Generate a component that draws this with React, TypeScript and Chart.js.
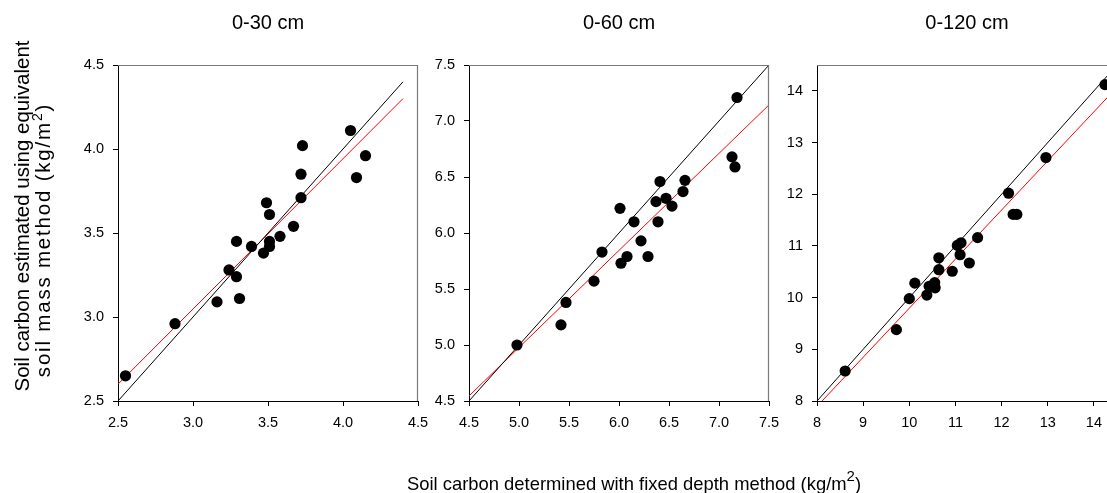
import React, { useEffect, useRef } from 'react';
import { Chart, registerables } from 'chart.js';
Chart.register(...registerables);

const FONT = '"Liberation Sans", Arial, Helvetica, sans-serif';

// ---- data ----
const panelTitles = ['0-30 cm', '0-60 cm', '0-120 cm'];

const fixed030 = [2.55, 2.88, 3.16, 3.31, 3.24, 3.29, 3.29, 3.39, 3.47, 3.51, 3.51, 3.58, 3.67, 3.49, 3.51, 3.72, 3.72, 3.73, 4.05, 4.09, 4.15];
const equiv030 = [2.65, 2.96, 3.09, 3.11, 3.28, 3.24, 3.45, 3.42, 3.38, 3.45, 3.42, 3.48, 3.54, 3.68, 3.61, 3.71, 3.85, 4.02, 4.11, 3.83, 3.96];

const fixed060 = [4.98, 5.42, 5.47, 5.75, 5.83, 6.01, 6.02, 6.08, 6.15, 6.22, 6.29, 6.37, 6.39, 6.41, 6.47, 6.53, 6.64, 6.66, 7.13, 7.16, 7.18];
const equiv060 = [5.0, 5.18, 5.38, 5.57, 5.83, 6.22, 5.73, 5.79, 6.1, 5.93, 5.79, 6.28, 6.1, 6.46, 6.31, 6.24, 6.37, 6.47, 6.68, 6.59, 7.21];

const fixed0120 = [8.61, 9.72, 10.0, 10.12, 10.38, 10.43, 10.55, 10.56, 10.64, 10.64, 10.93, 11.04, 11.12, 11.1, 11.3, 11.48, 12.15, 12.25, 12.33, 12.96, 14.24];
const equiv0120 = [8.58, 9.38, 9.98, 10.28, 10.05, 10.22, 10.29, 10.19, 10.54, 10.77, 10.51, 11.01, 11.06, 10.83, 10.67, 11.16, 12.02, 11.61, 11.61, 12.71, 14.12];

// 1:1 lines (x and y ends)
const oneToOne030 = [2.5, 4.4];
const oneToOne060 = [4.5, 7.5];
const oneToOne0120 = [8, 14.5];

// regression lines (x ends, y ends)
const fitX030 = [2.5, 4.4];
const fitY030 = [2.6, 4.3];
const fitX060 = [4.5, 7.5];
const fitY060 = [4.545, 7.144];
const fitX0120 = [8.11, 14.5];
const fitY0120 = [8.0, 14.07];

const ticks030 = [2.5, 3.0, 3.5, 4.0, 4.5];
const ticks060 = [4.5, 5.0, 5.5, 6.0, 6.5, 7.0, 7.5];
const ticks0120 = [8, 9, 10, 11, 12, 13, 14];

const ranges = [
  [2.5, 4.5],
  [4.5, 7.5],
  [8, 14.5],
];

// ---- layout ----
const panels = [
  { title: panelTitles[0], xs: fixed030, ys: equiv030, one: oneToOne030, fx: fitX030, fy: fitY030, ticks: ticks030, range: ranges[0], dec: 1, left: 0, width: 440, padLeft: 68, yw: 50, padRight: 22 },
  { title: panelTitles[1], xs: fixed060, ys: equiv060, one: oneToOne060, fx: fitX060, fy: fitY060, ticks: ticks060, range: ranges[1], dec: 1, left: 420, width: 370, padLeft: 4, yw: 45, padRight: 21 },
  { title: panelTitles[2], xs: fixed0120, ys: equiv0120, one: oneToOne0120, fx: fitX0120, fy: fitY0120, ticks: ticks0120, range: ranges[2], dec: 0, left: 770, width: 370, padLeft: 7, yw: 40, padRight: 23 },
];

const H = 493;

const framePlugin = {
  id: 'frame',
  afterDraw(chart: any, _args: any, opts: any) {
    const { ctx, chartArea: a } = chart;
    ctx.save();
    ctx.strokeStyle = '#7a7a7a';
    ctx.lineWidth = 1.2;
    ctx.beginPath();
    ctx.moveTo(a.left, a.top + 0.5);
    ctx.lineTo(a.right - 0.5, a.top + 0.5);
    ctx.lineTo(a.right - 0.5, a.bottom);
    ctx.stroke();
    ctx.fillStyle = '#000';
    ctx.font = '20px ' + FONT;
    ctx.textAlign = 'center';
    ctx.textBaseline = 'middle';
    ctx.fillText(opts.text, (a.left + a.right) / 2, 23);
    ctx.restore();
  },
};

function Panel({ p }: { p: any }) {
  const ref = useRef<HTMLCanvasElement>(null);
  useEffect(() => {
    const pts = p.xs.map((x: number, i: number) => ({ x, y: p.ys[i] }));
    const scaleCommon = (isX: boolean) => ({
      type: 'linear',
      min: p.range[0],
      max: p.range[1],
      afterBuildTicks: (s: any) => {
        s.ticks = p.ticks.map((v: number) => ({ value: v }));
      },
      afterFit: (s: any) => {
        if (isX) s.height = 40;
        else s.width = p.yw;
      },
      grid: { display: true, drawOnChartArea: false, drawTicks: true, tickLength: 5, color: '#000', lineWidth: 1 },
      border: { display: true, color: '#000', width: 1 },
      ticks: {
        padding: isX ? 8 : 9,
        color: '#000',
        font: { family: FONT, size: 14.5 },
        maxRotation: 0,
        autoSkip: false,
        callback: (v: any) => Number(v).toFixed(p.dec),
      },
    });
    const chart = new Chart(ref.current!, {
      type: 'scatter',
      data: {
        datasets: [
          {
            data: pts,
            pointStyle: 'circle',
            pointRadius: 5.6,
            backgroundColor: '#000',
            borderColor: '#000',
            borderWidth: 0,
          },
          {
            data: [
              { x: p.one[0], y: p.one[0] },
              { x: p.one[1], y: p.one[1] },
            ],
            showLine: true,
            pointRadius: 0,
            borderColor: '#000',
            borderWidth: 1,
          },
          {
            data: [
              { x: p.fx[0], y: p.fy[0] },
              { x: p.fx[1], y: p.fy[1] },
            ],
            showLine: true,
            pointRadius: 0,
            borderColor: '#ff0000',
            borderWidth: 1,
          },
        ],
      },
      options: {
        responsive: false,
        animation: false,
        layout: { padding: { left: p.padLeft, right: p.padRight, top: 65, bottom: 52 } },
        plugins: {
          legend: { display: false },
          tooltip: { enabled: false },
          frame: { text: p.title },
        } as any,
        scales: {
          x: scaleCommon(true) as any,
          y: scaleCommon(false) as any,
        },
      },
      plugins: [framePlugin],
    });
    return () => chart.destroy();
  }, []);
  return (
    <canvas
      ref={ref}
      width={p.width}
      height={H}
      style={{ position: 'absolute', left: p.left, top: 0, width: p.width, height: H }}
    />
  );
}

export default function App() {
  const txt: React.CSSProperties = {
    position: 'absolute',
    whiteSpace: 'nowrap',
    fontFamily: FONT,
    color: '#000',
    lineHeight: 1,
  };
  const sup: React.CSSProperties = { fontSize: 14, position: 'relative', top: -8, verticalAlign: 'baseline' };
  return (
    <div style={{ position: 'absolute', left: 0, top: 0, width: 1107, height: H, overflow: 'hidden', background: '#fff' }}>
      {panels.map((p, i) => (
        <Panel key={i} p={p} />
      ))}
      <div style={{ ...txt, fontSize: 20.5, left: 22, top: 216, transform: 'translate(-50%, -50%) rotate(-90deg)' }}>
        Soil carbon estimated using equivalent
      </div>
      <div style={{ ...txt, fontSize: 20.5, letterSpacing: 1.8, left: 43, top: 240, transform: 'translate(-50%, -50%) rotate(-90deg)' }}>
        soil mass method (kg/m<span style={sup}>2</span>)
      </div>
      <div style={{ ...txt, fontSize: 18.4, left: 407, top: 474.5 }}>
        Soil carbon determined with fixed depth method (kg/m<span style={{ ...sup, fontSize: 15, top: -9 }}>2</span>)
      </div>
    </div>
  );
}
